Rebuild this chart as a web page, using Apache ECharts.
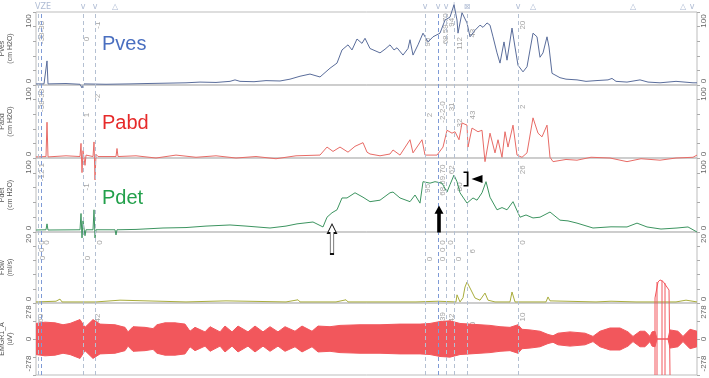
<!DOCTYPE html>
<html>
<head>
<meta charset="utf-8">
<script src="https://cdn.jsdelivr.net/npm/echarts@6/dist/echarts.min.js"></script>
<style>
  html, body { margin: 0; padding: 0; background: #fff; }
  #main { width: 709px; height: 378px; }
</style>
</head>
<body>
<div id="main"></div>
<script>
// time axis (s), each trace as [t, value]
const T_MAX = 661

const pves = [[0,1.5],[8,1.5],[10,2],[11,33],[12,1.5],[30,2],[44,1],[46,-4],[48,1.5],[70,1],[94,1.5],[110,2],[130,2.5],[150,3],[164,4],[180,3.5],[194,5],[199,7],[204,5],[218,4.5],[230,6],[244,5.5],[254,8],[264,12],[274,15],[284,11],[294,23],[301,30],[306,48],[312,55],[316,48],[321,63],[326,57],[329,64],[334,50],[339,47],[344,44],[349,49],[354,55],[358,48],[361,51],[367,41],[372,50],[374,62],[377,41],[382,55],[387,71],[392,59],[397,66],[404,71],[409,89],[414,93],[418,110],[421,89],[422,71],[426,99],[431,85],[434,66],[439,75],[444,82],[447,79],[451,85],[454,82],[457,66],[461,44],[464,30],[468,59],[471,34],[476,78],[479,52],[482,27],[487,18],[491,25],[497,71],[501,66],[504,38],[507,44],[511,66],[513,52],[516,16],[524,10],[530,8],[541,7],[550,5],[560,6],[572,7],[576,9],[580,5],[591,4],[604,7],[612,4],[624,3],[640,5],[657,3],[661,3]]

const pabd = [[0,1.5],[10,2],[11,49],[12,1.5],[30,3],[44,2],[45,20],[46,-20],[47,10],[49,-10],[50,4],[57,2],[58,22],[59,-30],[60,5],[62,2],[80,2],[81,13],[82,2],[100,3],[120,0],[140,4],[160,1],[180,3],[200,0],[220,2],[240,-1],[260,3],[284,4],[291,15],[297,9],[304,15],[312,8],[319,16],[327,21],[331,8],[334,5.5],[344,3],[354,5.5],[357,11],[364,4],[374,25],[377,7],[386,25],[389,4],[401,4],[407,15],[411,38],[416,34],[419,36],[423,25],[426,48],[431,45],[432,15],[436,41],[442,36],[446,38],[449,-5],[454,34],[459,7],[462,25],[466,1],[469,36],[472,15],[477,45],[481,4],[486,1],[491,7],[497,55],[502,34],[506,29],[511,45],[514,1],[517,-5],[530,-2],[541,-3],[555,1],[574,0],[591,-5],[605,-1],[624,-3],[640,0],[657,1],[661,4]]

const pdet = [[0,2.7],[10,3],[11,11],[12,2.7],[44,3],[45,25],[46,-8],[47,15],[49,-5],[50,3],[57,3],[58,30],[59,-8],[60,3],[79,3],[80,-4],[81,3],[100,3.5],[127,5.4],[150,6],[170,8],[194,9.5],[210,8],[234,5.4],[250,8],[261,11],[277,13.5],[287,6.8],[291,20],[296,26],[301,30],[306,46],[311,46],[319,53],[327,47],[334,41],[344,43],[354,53],[357,54],[364,46],[374,41],[379,50],[384,39],[387,68],[394,66],[399,68],[406,66],[411,54],[414,64],[418,77],[421,68],[424,53],[431,39],[437,46],[441,43],[446,53],[450,68],[454,47],[461,30],[466,33],[471,30],[477,41],[484,20],[490,23],[497,19],[504,20],[514,27],[524,16],[532,15],[541,12],[557,5.4],[575,7],[591,6.8],[601,12],[611,6.8],[625,4],[641,5.4],[652,6.8],[661,0]]

const flow = [[0,0.3],[20,0.5],[24,1.1],[26,0.3],[60,0.3],[84,0.8],[86,0.3],[150,0.3],[190,0.6],[192,0.3],[250,0.3],[262,0.9],[264,0.3],[300,0.3],[310,0.9],[312,0.3],[380,0.3],[402,0.5],[420,0.3],[421,2.3],[424,0.3],[427,1.5],[429,4.5],[431,5.9],[436,3.1],[439,1.4],[444,0.8],[449,2.8],[452,0.8],[459,0.3],[474,0.3],[476,3.1],[479,0.3],[510,0.3],[512,1.7],[514,0.6],[516,0.3],[560,0.3],[575,0.5],[600,0.3],[640,0.3],[650,0.8],[652,0.3],[661,0.3]]

// EMG: half-height of the band (uV)
const emgEnvelope = [[0,120],[9,130],[19,125],[27,110],[34,120],[44,150],[49,90],[57,150],[64,115],[79,110],[89,90],[92,55],[97,95],[109,90],[117,80],[121,110],[129,125],[139,125],[149,115],[154,60],[159,90],[169,55],[174,95],[184,55],[189,100],[196,55],[202,100],[212,55],[219,100],[227,55],[234,95],[242,55],[249,95],[259,60],[266,100],[276,60],[282,100],[294,95],[304,105],[324,110],[344,110],[364,115],[384,115],[394,120],[404,135],[414,140],[424,120],[434,115],[444,110],[454,105],[464,95],[474,90],[482,110],[486,75],[494,70],[504,60],[512,35],[517,25],[522,45],[534,55],[549,45],[557,20],[564,60],[574,85],[584,85],[592,55],[597,20],[604,60],[609,60],[614,20],[616,55],[619,60],[621,0],[632,0],[634,70],[642,60],[647,20],[654,75],[661,60]]
const emgArtifact = [[619,-278],[619,317],[622,440],[624,456],[627,445],[629,432],[633,378],[634,-278],null,[621,-278],[621,440],null,[626,-278],[626,450],null,[629,-278],[629,432]]

const eventLines = [2, 47, 59, 389, 410, 418, 431, 482]
const blueEvents = [5, 402]
const topMarks = [[7,'VZE'],[47,'v'],[59,'v'],[79,'△'],[389,'v'],[402,'v'],[410,'v'],[418,'|'],[431,'⊠'],[482,'v'],[497,'△'],[597,'△'],[647,'△'],[656,'v']]

const notes = [
  [[6,72,'-38-38'],[51,63,'0'],[62,82,'-1'],[392,59,'95'],[410,77,'68.59.70'],[416,86,'94'],[424,57,'112'],[437,71,'43'],[487,82,'20']],
  [[6,79,'-38-38'],[51,59,'1'],[62,83,'-2'],[394,59,'2'],[407,63,'-2-2-0'],[416,70,'31'],[424,48,'32'],[437,59,'43'],[487,70,'2']],
  [[6,81,'-12 1'],[51,61,'-1'],[392,59,'95'],[407,70,'68.69.70'],[416,84,'62'],[424,61,'80'],[487,84,'26']],
  [[6,17,'0'],[11,17,'0'],[6,15,'0'],[7,12.7,'0'],[52,12.7,'0'],[64,17,'0'],[394,12.4,'0'],[407,17,'0'],[407,15,'0'],[407,12.4,'0'],[415,17,'0'],[423,12.4,'0'],[437,14.6,'6'],[487,17,'0']],
  [[5,160,'60'],[62,162,'42'],[407,131,'23.39'],[416,162,'42'],[437,116,'0'],[487,170,'10']]
]

const panels = [
  { name: 'Pves\n(cm H2O)', min: 0, max: 100, step: 20, top: 12, height: 73 },
  { name: 'Pabd\n(cm H2O)', min: 0, max: 100, step: 20, top: 85, height: 73 },
  { name: 'Pdet\n(cm H2O)', min: 0, max: 100, step: 20, top: 158, height: 74 },
  { name: 'Flow\n(ml/s)', min: 0, max: 20, step: 4, top: 232, height: 71 },
  { name: 'EMGR1_A\n(uV)', min: -278, max: 278, step: 139, top: 303, height: 72 }
]
const traceColors = ['#5a6d9b', '#e86b66', '#3c9460', '#a9ad3c']
const emgColor = '#f2575c'

function labelOpt(p) {
  const w = s => String(s).length * 5 + 3
  const base = { fontSize: 8, color: '#666', fontFamily: 'Liberation Sans' }
  return {
    rotate: 90,
    margin: 3,
    formatter: v => v === p.max ? '{hi|' + v + '}' : v === p.min ? '{lo|' + v + '}' : (v === 0 ? '{md|0}' : ''),
    rich: {
      hi: Object.assign({ padding: [0, w(p.max), 0, 0] }, base),
      lo: Object.assign({ padding: [0, 0, 0, w(p.min)] }, base),
      md: base
    }
  }
}

const grid = panels.map(p => ({
  left: 36, right: 12, top: p.top, height: p.height,
  outerBoundsMode: 'none', containLabel: false,
  show: true, borderColor: '#bdbdbd', borderWidth: 1
}))
grid.push({ left: 36, right: 12, top: 12, bottom: 3, outerBoundsMode: 'none', containLabel: false })

const xAxis = grid.map((g, i) => ({ gridIndex: i, type: 'value', min: 0, max: T_MAX, show: false }))

const yAxis = []
panels.forEach((p, i) => {
  ['left', 'right'].forEach(pos => {
    yAxis.push({
      gridIndex: i, type: 'value', position: pos,
      min: p.min, max: p.max, interval: p.step,
      name: pos === 'left' ? p.name : '',
      nameLocation: 'middle', nameGap: 22, nameRotate: 90, nameMoveOverlap: false,
      nameTextStyle: { fontSize: 7, color: '#555', lineHeight: 8, fontFamily: 'Liberation Sans' },
      axisLine: { show: false },
      splitLine: { show: false },
      axisTick: { show: true, length: 3, lineStyle: { color: '#aaa' } },
      axisLabel: labelOpt(p)
    })
  })
})
yAxis.push({ gridIndex: 5, type: 'value', min: 0, max: 1, show: false })

const series = []

series.push({
  type: 'scatter', xAxisIndex: 5, yAxisIndex: 10, symbolSize: 0, clip: false, silent: true,
  data: topMarks.map(m => ({ value: [m[0], 1], name: m[1] })),
  label: { show: true, position: 'top', distance: 1, formatter: '{b}', fontSize: 8, color: '#9aaac8', fontFamily: 'DejaVu Sans' },
  markLine: {
    silent: true, symbol: ['none', 'none'], label: { show: false },
    lineStyle: { type: [4, 3], color: '#b4c0d2', width: 1 },
    data: eventLines.map(t => ({ xAxis: t })).concat(
      blueEvents.map(t => ({ xAxis: t, lineStyle: { color: '#7e9ad6', type: [4, 3], width: 1 } })))
  }
})

;[pves, pabd, pdet, flow].forEach((d, i) => {
  series.push({
    type: 'line', xAxisIndex: i, yAxisIndex: 2 * i, data: d,
    symbol: 'none', clip: false, silent: true,
    lineStyle: { width: 1, color: traceColors[i] }
  })
})

series.push({
  type: 'line', xAxisIndex: 4, yAxisIndex: 8, symbol: 'none', silent: true,
  data: emgEnvelope.map(e => [e[0], e[1]]),
  lineStyle: { width: 1, color: emgColor }, areaStyle: { color: emgColor, opacity: 1 }
})
series.push({
  type: 'line', xAxisIndex: 4, yAxisIndex: 8, symbol: 'none', silent: true,
  data: emgEnvelope.map(e => [e[0], -e[1]]),
  lineStyle: { width: 1, color: emgColor }, areaStyle: { color: emgColor, opacity: 1 }
})
series.push({
  type: 'line', xAxisIndex: 4, yAxisIndex: 8, symbol: 'none', silent: true, clip: false,
  connectNulls: false, data: emgArtifact,
  lineStyle: { width: 1, color: emgColor }
})

notes.forEach((list, i) => {
  series.push({
    type: 'scatter', xAxisIndex: i, yAxisIndex: 2 * i, symbolSize: 0, silent: true,
    data: list.map(n => ({ value: [n[0], n[1]], name: n[2] })),
    label: { show: true, position: 'inside', formatter: '{b}', rotate: 90, fontSize: 8, color: '#8c8c8c', fontFamily: 'Liberation Sans' }
  })
})

const upArrow = 'path://M5,0 L10,9 L7,9 L7,30 L3,30 L3,9 L0,9 Z'
series.push({
  type: 'scatter', xAxisIndex: 2, yAxisIndex: 4, data: [], silent: true,
  markPoint: {
    silent: true, label: { show: false },
    data: [
      { coord: [296, 0], symbol: upArrow, symbolSize: [9, 30], symbolOffset: [0, 7], itemStyle: { color: '#fff', borderColor: '#111', borderWidth: 1 } },
      { coord: [403, 17.5], symbol: upArrow, symbolSize: [9, 27], itemStyle: { color: '#000' } },
      { coord: [430, 71.6], symbol: 'path://M0,0 L4,0 L4,15 L0,15 L0,13.6 L2.6,13.6 L2.6,1.4 L0,1.4 Z', symbolSize: [5, 15], itemStyle: { color: '#000' } },
      { coord: [441, 71.6], symbol: 'path://M0,4 L11,0 L11,8 Z', symbolSize: [11, 8], itemStyle: { color: '#000' } }
    ]
  }
})

const chart = echarts.init(document.getElementById('main'))
chart.setOption({
  animation: false,
  backgroundColor: '#fff',
  grid, xAxis, yAxis, series,
  graphic: [
    { type: 'text', left: 102, top: 34, style: { text: 'Pves', fontSize: 20, fill: '#4a6fc0', fontFamily: 'Liberation Sans' } },
    { type: 'text', left: 102, top: 113, style: { text: 'Pabd', fontSize: 20, fill: '#e62a2a', fontFamily: 'Liberation Sans' } },
    { type: 'text', left: 102, top: 188, style: { text: 'Pdet', fontSize: 20, fill: '#22a04b', fontFamily: 'Liberation Sans' } }
  ]
})
</script>
</body>
</html>
